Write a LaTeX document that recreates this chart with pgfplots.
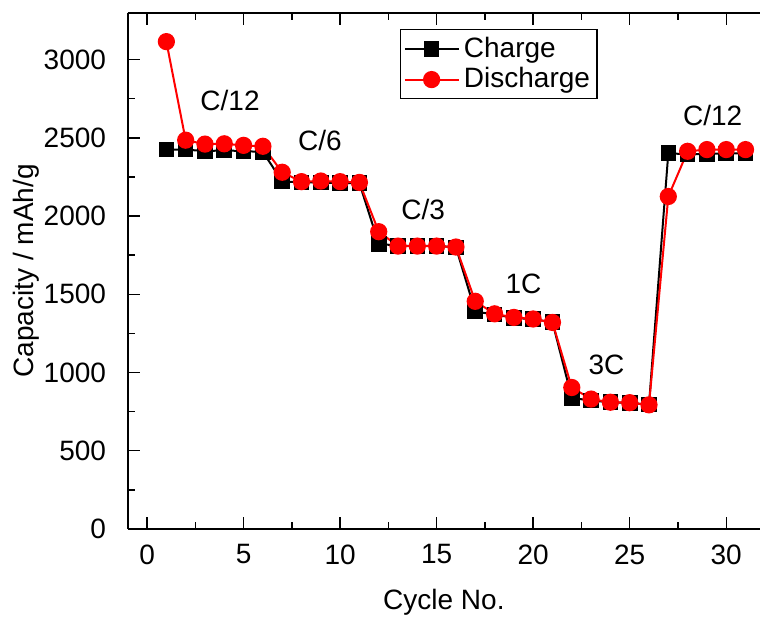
\documentclass[border=0pt]{standalone}
\usepackage{fontspec}
\setmainfont{Liberation Sans}
\usepackage{pgfplots}
\pgfplotsset{compat=1.18}
\usetikzlibrary{calc}
\begin{document}
\fontsize{14pt}{16.8pt}\selectfont
\begin{tikzpicture}
\begin{axis}[
  scale only axis, width=316pt, height=258pt,
  xmin=-1, xmax=31.75, ymin=0, ymax=3300,
  axis x line*=box, axis y line*=left,
  xtick={0,5,...,30}, minor x tick num=1,
  ytick={0,500,...,3000}, minor y tick num=1,
  tick align=inside,
  major tick length=6pt, minor tick length=3.5pt,
  tick style={black, line width=0.7pt},
  axis line style={line width=0.9pt},
  /pgf/number format/assume math mode=true,
  /pgf/number format/1000 sep={},
  tick label style={font=\fontsize{14pt}{16.8pt}\selectfont},
  every x tick label/.append style={yshift=-3pt},
  every y tick label/.append style={xshift=-6pt},
  xlabel={Cycle No.},
  ylabel={Capacity / mAh/g},
  label style={font=\fontsize{14.5pt}{17pt}\selectfont},
  every axis x label/.style={at={(axis description cs:0.5,0)}, yshift=-36.5pt, anchor=center},
  every axis y label/.style={at={(axis description cs:0,0.5)}, xshift=-50.5pt, rotate=90, anchor=center},
  legend style={at={(rel axis cs:0.431,0.968)}, anchor=north west, draw=black, line width=0.6pt,
    font=\fontsize{14pt}{16.8pt}\selectfont, inner sep=1.5pt, row sep=-1pt},
  legend cell align=left,
  legend image code/.code={\draw[mark repeat=2,mark phase=2] plot coordinates {(0cm,0cm)(0.47cm,0cm)(0.95cm,0cm)};},
]
\addplot[black, line width=1pt, mark=square*, mark size=3.4pt, mark options={solid}] coordinates {
(1,2425)(2,2425)(3,2415)(4,2420)(5,2415)(6,2410)
(7,2222)(8,2215)(9,2215)(10,2210)(11,2210)
(12,1823)(13,1810)(14,1810)(15,1810)(16,1800)
(17,1390)(18,1370)(19,1350)(20,1340)(21,1322)
(22,838)(23,820)(24,810)(25,805)(26,795)
(27,2403)(28,2393)(29,2398)(30,2400)(31,2400)
};
\addlegendentry{Charge}
\addplot[red, line width=1pt, mark=*, mark size=3.8pt, mark options={solid,fill=red}] coordinates {
(1,3115)(2,2485)(3,2460)(4,2462)(5,2452)(6,2446)
(7,2280)(8,2220)(9,2224)(10,2220)(11,2215)
(12,1900)(13,1808)(14,1808)(15,1808)(16,1802)
(17,1455)(18,1375)(19,1352)(20,1342)(21,1320)
(22,904)(23,830)(24,810)(25,807)(26,793)
(27,2125)(28,2414)(29,2425)(30,2425)(31,2425)
};
\addlegendentry{Discharge}
\node[font=\fontsize{14pt}{16.8pt}\selectfont] at (axis cs:4.3,2738) {C/12};
\node[font=\fontsize{14pt}{16.8pt}\selectfont] at (axis cs:8.95,2482) {C/6};
\node[font=\fontsize{14pt}{16.8pt}\selectfont] at (axis cs:14.3,2041) {C/3};
\node[font=\fontsize{14pt}{16.8pt}\selectfont] at (axis cs:19.5,1568) {1C};
\node[font=\fontsize{14pt}{16.8pt}\selectfont] at (axis cs:23.8,1049) {3C};
\node[font=\fontsize{14pt}{16.8pt}\selectfont] at (axis cs:29.3,2642) {C/12};
\end{axis}
\pgfresetboundingbox
\path[use as bounding box] ($(current axis.south west)+(-63.85pt,-44pt)$) rectangle ($(current axis.north east)+(0pt,6.35pt)$);
\end{tikzpicture}
\end{document}
